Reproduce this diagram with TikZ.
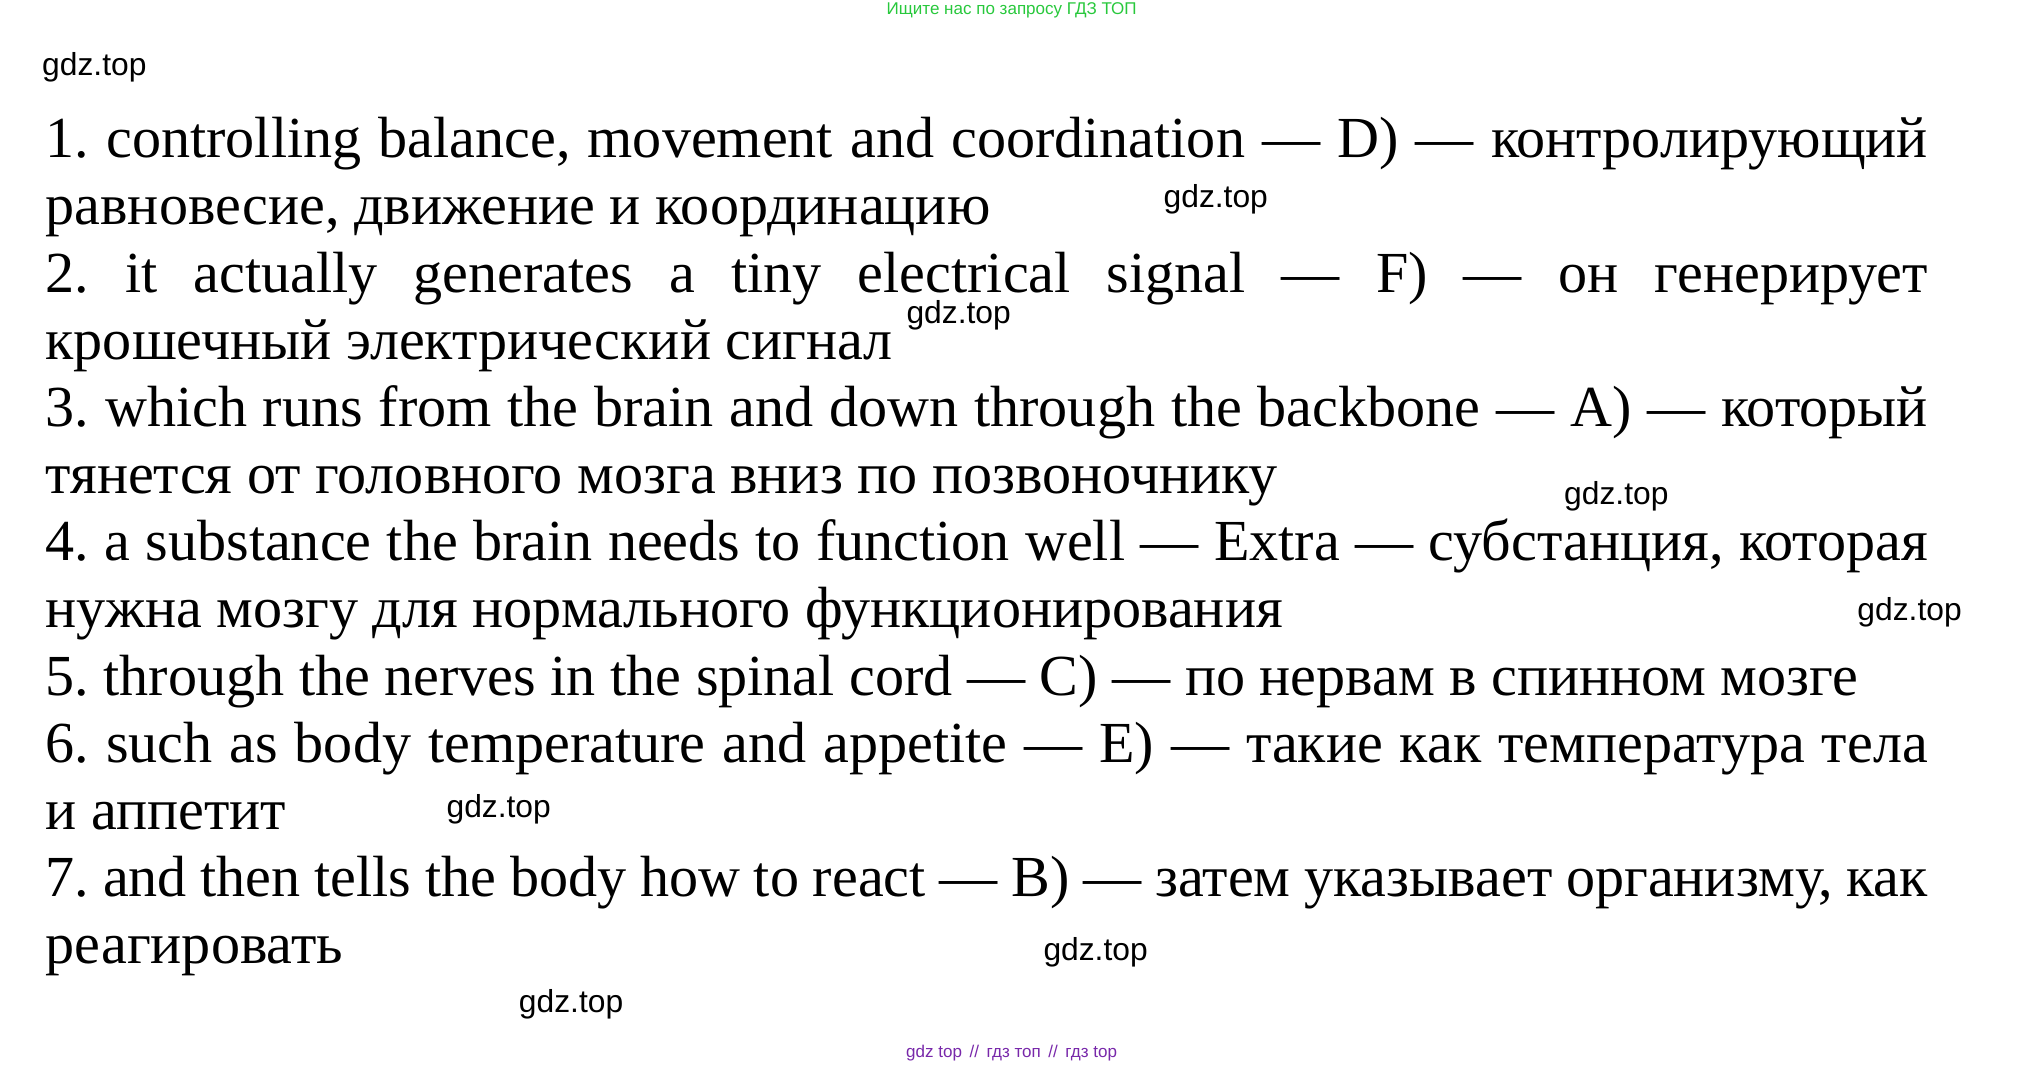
\documentclass[tikz,border=0pt]{standalone}
\usepackage{fontspec}
\setmainfont{Liberation Serif}
\newfontfamily\wmfont{Liberation Sans}
\usepackage{tikz}
\frenchspacing
\newcommand{\fullln}[1]{\makebox[29.14cm][s]{#1}}
\tikzset{
  txtline/.style={anchor=base west, inner sep=0pt, font=\fontsize{25.6}{29}\selectfont},
  wmark/.style={inner sep=0pt, font=\wmfont\fontsize{14}{16}\selectfont},
  footmark/.style={inner sep=0pt, font=\wmfont\fontsize{7.5}{9}\selectfont}
}
\begin{document}
\begin{tikzpicture}[x=0.02cm, y=-0.02cm]
            \useasboundingbox (0,0) rectangle (1565,826);
            % header and footer
            \node[footmark, text={rgb,255:red,40;green,200;blue,60}] (head) at (783,8) {Ищите нас по запросу ГДЗ ТОП};
            \node[footmark, text={rgb,255:red,120;green,40;blue,170}] (foot) at (783,815) {gdz top \,//\, гдз топ \,//\, гдз top};
            % answer lines
            \node[txtline] (l1) at (35,122) {\fullln{1. controlling balance, movement and coordination — D) — контролирующий}};
            \node[txtline] (l2) at (35,174) {равновесие, движение и координацию};
            \node[txtline] (l3) at (35,226) {\fullln{2. it actually generates a tiny electrical signal — F) — он генерирует}};
            \node[txtline] (l4) at (35,278) {крошечный электрический сигнал};
            \node[txtline] (l5) at (35,330) {\fullln{3. which runs from the brain and down through the backbone — A) — который}};
            \node[txtline] (l6) at (35,382) {тянется от головного мозга вниз по позвоночнику};
            \node[txtline] (l7) at (35,434) {\fullln{4. a substance the brain needs to function well — Extra — субстанция, которая}};
            \node[txtline] (l8) at (35,486) {нужна мозгу для нормального функционирования};
            \node[txtline] (l9) at (35,538) {5. through the nerves in the spinal cord — C) — по нервам в спинном мозге};
            \node[txtline] (l10) at (35,590) {\fullln{6. such as body temperature and appetite — E) — такие как температура тела}};
            \node[txtline] (l11) at (35,642) {и аппетит};
            \node[txtline] (l12) at (35,694) {\fullln{7. and then tells the body how to react — B) — затем указывает организму, как}};
            \node[txtline] (l13) at (35,746) {реагировать};
            % watermarks
            \node[wmark] (w1) at (73,52) {gdz.top};
            \node[wmark] (w2) at (941,154) {gdz.top};
            \node[wmark] (w3) at (742,244) {gdz.top};
            \node[wmark] (w4) at (1251,384) {gdz.top};
            \node[wmark] (w5) at (1478,474) {gdz.top};
            \node[wmark] (w6) at (386,626) {gdz.top};
            \node[wmark] (w7) at (848,737) {gdz.top};
            \node[wmark] (w8) at (442,777) {gdz.top};
        \end{tikzpicture}
\end{document}
